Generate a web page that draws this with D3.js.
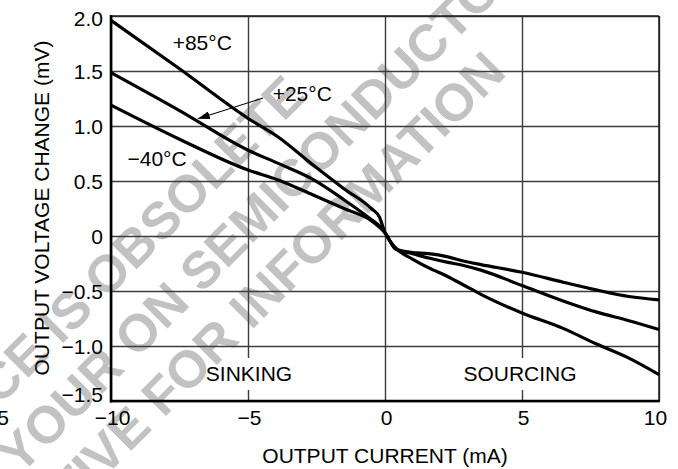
<!DOCTYPE html>
<html>
<head>
<meta charset="utf-8">
<script src="https://d3js.org/d3.v7.min.js"></script>
<style>
body { margin: 0; background: white; }
svg text { font-family: "Liberation Sans", Arial, sans-serif; fill: black; }
.wm { font-weight: bold; font-size: 52px; fill: #c2c2c2; }
.grid line { stroke: #3c3c3c; stroke-width: 1.4px; }
.grid path { display: none; }
.grid text { font-size: 21px; }
.curve { fill: none; stroke: black; stroke-width: 3.2px; stroke-linejoin: round; }
.lbl { font-size: 21px; }
</style>
</head>
<body>
<svg width="678" height="469"></svg>
<script>
// output current (mA) sample points, shared by the three curves
var current = [-10, -7.5, -5, -3.9, -2.6, -1.5, -0.5, -0.2, 0, 0.4, 1, 1.6, 2.3, 2.9, 3.5, 5, 6.5, 7.7, 8.9, 10];
// output voltage change (mV)
var mv85 = [1.96, 1.52, 1.07, 0.90, 0.64, 0.43, 0.25, 0.17, 0.03, -0.11, -0.21, -0.29, -0.37, -0.45, -0.53, -0.70, -0.84, -0.98, -1.11, -1.26];
var mv25 = [1.485, 1.14, 0.78, 0.66, 0.51, 0.33, 0.15, 0.09, 0.03, -0.12, -0.16, -0.20, -0.24, -0.27, -0.31, -0.45, -0.59, -0.69, -0.77, -0.85];
var mv40 = [1.19, 0.88, 0.60, 0.51, 0.37, 0.25, 0.14, 0.08, 0.03, -0.12, -0.15, -0.16, -0.19, -0.23, -0.26, -0.33, -0.42, -0.49, -0.55, -0.58];

var xTicks = [-10, -5, 0, 5, 10];
var xTickLabels = ["\u221210", "\u22125", "0", "5", "10"];
var yTicks = [2, 1.5, 1, 0.5, 0, -0.5, -1, -1.5];
var yTickLabels = ["2.0", "1.5", "1.0", "0.5", "0", "\u22120.5", "\u22121.0", "\u22121.5"];
var tempLabels = ["+85\u00b0C", "+25\u00b0C", "\u221240\u00b0C"];
var regionLabels = ["SINKING", "SOURCING"];

var svg = d3.select("svg");
var pl = 111, pr = 659, pt = 16, pb = 401;
var x = d3.scaleLinear().domain([-10, 10]).range([pl, pr]);
var y = d3.scaleLinear().domain([-1.5, 2]).range([pb, pt]);

//watermark behind everything
var wm = svg.append("g");
function wmLine(str, px, py) {
  wm.append("text").attr("class", "wm")
    .attr("text-anchor", "end")
    .attr("transform", "translate(" + px + "," + py + ") rotate(-45)")
    .text(str);
}
wmLine("THIS DEVICE IS OBSOLETE", 308, 98);
wmLine("CONTACT YOUR ON SEMICONDUCTOR", 530, -34);
wmLine("REPRESENTATIVE FOR INFORMATION", 508, 74);

//grid + tick labels
var gy = svg.append("g").attr("class", "grid")
  .attr("transform", "translate(" + pl + ",0)")
  .call(d3.axisLeft(y).tickValues(yTicks)
    .tickFormat(function(d, i) { return yTickLabels[i]; })
    .tickSize(-(pr - pl)).tickPadding(8));
gy.selectAll("text").attr("dy", function(d, i) {
  if (i == 0) return "0.45em";
  if (i == yTicks.length - 1) return "0.0em";
  return "0.34em";
});

var gx = svg.append("g").attr("class", "grid")
  .attr("transform", "translate(0," + pb + ")")
  .call(d3.axisBottom(x).tickValues(xTicks)
    .tickFormat(function(d, i) { return xTickLabels[i]; })
    .tickSize(-(pb - pt)).tickPadding(9));
gx.selectAll("text").attr("dx", function(d, i) { return i == xTicks.length - 1 ? -4 : 1; });

//frame
svg.append("line").attr("x1", pl).attr("x2", pr).attr("y1", pt).attr("y2", pt)
  .style("stroke", "#222").style("stroke-width", 1.6);
svg.append("line").attr("x1", pr).attr("x2", pr).attr("y1", pt).attr("y2", pb)
  .style("stroke", "#222").style("stroke-width", 1.6);
svg.append("line").attr("x1", pl).attr("x2", pl).attr("y1", pt - 1).attr("y2", pb + 1.5)
  .style("stroke", "black").style("stroke-width", 2.6);
svg.append("line").attr("x1", pl - 1).attr("x2", pr + 1).attr("y1", pb).attr("y2", pb)
  .style("stroke", "black").style("stroke-width", 2.6);

//region labels, grid line broken behind them
[-5, 5].forEach(function(v, i) {
  svg.append("rect").attr("x", x(v) - 3).attr("y", 358).attr("width", 6).attr("height", 32)
    .style("fill", "white");
  svg.append("text").attr("class", "lbl")
    .attr("x", x(v) + (i == 0 ? 1 : -2)).attr("y", 381)
    .attr("text-anchor", "middle")
    .text(regionLabels[i]);
});

//curves
var line = d3.line()
  .x(function(d) { return x(d[0]); })
  .y(function(d) { return y(d[1]); })
  .curve(d3.curveMonotoneX);
[mv85, mv25, mv40].forEach(function(s) {
  svg.append("path").attr("class", "curve")
    .attr("d", line(current.map(function(c, i) { return [c, s[i]]; })));
});

//temperature labels
svg.append("text").attr("class", "lbl").attr("x", x(-7.75)).attr("y", y(1.69)).text(tempLabels[0]);
svg.append("text").attr("class", "lbl").attr("x", x(-4.1)).attr("y", y(1.23)).text(tempLabels[1]);
svg.append("text").attr("class", "lbl").attr("x", x(-9.4)).attr("y", y(0.64)).text(tempLabels[2]);

//arrow to the +25 curve
svg.append("defs").append("marker")
  .attr("id", "head").attr("viewBox", "0 0 12 8")
  .attr("refX", 12).attr("refY", 4)
  .attr("markerWidth", 12).attr("markerHeight", 8)
  .attr("markerUnits", "userSpaceOnUse")
  .attr("orient", "auto")
  .append("path").attr("d", "M0,0L12,4L0,8Z").style("fill", "black");
svg.append("line")
  .attr("x1", x(-4.45)).attr("y1", y(1.255))
  .attr("x2", x(-6.83)).attr("y2", y(1.065))
  .style("stroke", "black").style("stroke-width", 1.1)
  .attr("marker-end", "url(#head)");

//axis titles
svg.append("text").attr("class", "lbl")
  .attr("x", x(0)).attr("y", 463)
  .attr("text-anchor", "middle")
  .text("OUTPUT CURRENT (mA)");
svg.append("text").attr("class", "lbl")
  .attr("transform", "translate(49,208) rotate(-90)")
  .attr("text-anchor", "middle")
  .text("OUTPUT VOLTAGE CHANGE (mV)");

//edge of the neighbouring figure
svg.append("text").attr("class", "lbl").attr("x", 9).attr("y", 425)
  .attr("text-anchor", "end").text("5");
</script>
</body>
</html>
